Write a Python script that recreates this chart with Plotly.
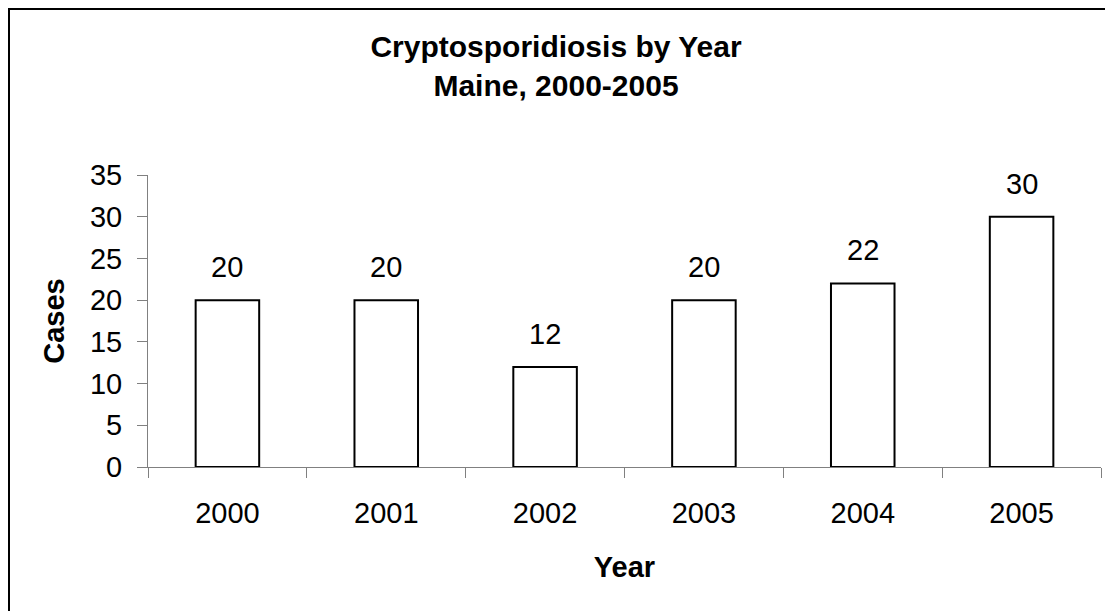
import plotly.graph_objects as go

years = ["2000", "2001", "2002", "2003", "2004", "2005"]
cases = [20, 20, 12, 20, 22, 30]
y_ticks = [0, 5, 10, 15, 20, 25, 30, 35]

FONT = "Arial, Liberation Sans, sans-serif"
# page has an 8px body margin, so the figure is slightly smaller
W, H = 1105, 603
ML, MR, MT, MB = 140, 12, 167, 144
pw, ph = W - ML - MR, H - MT - MB

fig = go.Figure()
fig.add_trace(go.Bar(
    x=years, y=cases, width=0.4,
    marker=dict(color="white", line=dict(color="black", width=2)),
    hoverinfo="x+y", showlegend=False,
))

for i, v in enumerate(cases):
    fig.add_annotation(x=i, y=v, text=str(v), showarrow=False,
                       xref="x", yref="y",
                       yanchor="bottom", yshift=15,
                       font=dict(family=FONT, size=29, color="black"))

def px_x(p):
    return (p - ML) / pw

def px_y(p):
    return (H - MB - p) / ph

# outer frame (top and left only visible)
fig.add_shape(type="line", xref="paper", yref="paper",
              x0=px_x(0), x1=px_x(W + 20), y0=px_y(0), y1=px_y(0),
              line=dict(color="black", width=4))
fig.add_shape(type="line", xref="paper", yref="paper",
              x0=px_x(0), x1=px_x(0), y0=px_y(0), y1=px_y(H + 20),
              line=dict(color="black", width=4))

fig.update_layout(
    width=W, height=H,
    margin=dict(l=ML, r=MR, t=MT, b=MB),
    paper_bgcolor="white", plot_bgcolor="white",
    title=dict(text="<b>Cryptosporidiosis by Year<br>Maine, 2000-2005</b>",
               x=548 / W, xanchor="center",
               y=1 - 49 / H, yanchor="middle",
               font=dict(family=FONT, size=30, color="black")),
    font=dict(family=FONT, size=29, color="black"),
    bargap=0.6,
)
fig.update_xaxes(
    type="category", range=[-0.5, len(years) - 0.5],
    showline=True, linecolor="#808080", linewidth=1,
    ticks="outside", ticklen=10, tickcolor="#808080", tickson="boundaries",
    showgrid=False, ticklabelstandoff=20, tickangle=0,
    tickfont=dict(family=FONT, size=29, color="black"),
    title=dict(text="<b>Year</b>", standoff=28,
               font=dict(family=FONT, size=29, color="black")),
)
fig.update_yaxes(
    range=[0, 35], tickvals=y_ticks, showline=True, linecolor="#808080",
    linewidth=1, ticks="outside", ticklen=10, tickcolor="#808080",
    showgrid=False, zeroline=False, ticklabelstandoff=9,
    tickfont=dict(family=FONT, size=29, color="black"),
    title=dict(text="<b>Cases</b>", standoff=16,
               font=dict(family=FONT, size=29, color="black")),
)

fig.write_html("out.html")
